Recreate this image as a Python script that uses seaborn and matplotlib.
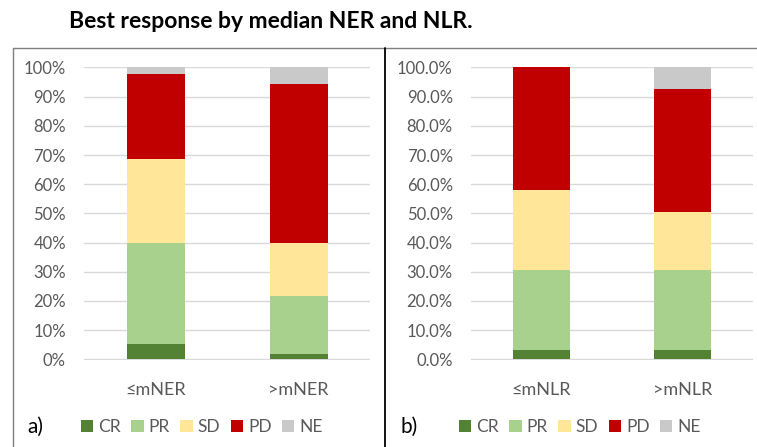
import numpy as np
import pandas as pd
import matplotlib
matplotlib.use('Agg')
import matplotlib.pyplot as plt
import seaborn as sns
from matplotlib.lines import Line2D
from matplotlib.patches import Patch
from matplotlib.ticker import FuncFormatter

# --- dados ---
responses = ['CR', 'PR', 'SD', 'PD', 'NE']
colors = ['#548235', '#A9D18E', '#FFE699', '#C00000', '#C9C9C9']

ner_groups = ['≤mNER', '>mNER']
ner_CR = [5.3, 1.7]
ner_PR = [34.5, 19.9]
ner_SD = [29.0, 18.2]
ner_PD = [29.1, 54.5]
ner_NE = [2.1, 5.7]

nlr_groups = ['≤mNLR', '>mNLR']
nlr_CR = [3.2, 3.2]
nlr_PR = [27.4, 27.4]
nlr_SD = [27.3, 20.0]
nlr_PD = [42.1, 42.0]
nlr_NE = [0.0, 7.4]

sns.set_theme(style='white')
plt.rcParams['font.family'] = ['Lato', 'DejaVu Sans']

fig = plt.figure(figsize=(7.57, 4.47), dpi=100)
ax_a = fig.add_axes([0.111, 0.195, 0.378, 0.656])
ax_b = fig.add_axes([0.622, 0.195, 0.3725, 0.656])


def stacked(ax, groups, series, fmt, letter, leg_x, letter_x):
    df = pd.DataFrame(dict(zip(responses, series)), index=groups)
    cum = df.cumsum(axis=1)
    # desenha do topo para baixo, cada barra cobre a anterior
    for resp, col in zip(responses[::-1], colors[::-1]):
        sns.barplot(x=list(groups), y=cum[resp].values, color=col, width=0.405,
                    saturation=1, ax=ax, zorder=3, edgecolor='none')
    ax.set_ylim(-0.2, 100.3)
    ax.set_xlim(-0.5, 1.5)
    ax.set_yticks(np.arange(0, 101, 10))
    ax.yaxis.set_major_formatter(FuncFormatter(lambda v, p: fmt.format(v)))
    ax.grid(axis='y', color='#D9D9D9', lw=1, zorder=0)
    for s in ax.spines.values():
        s.set_visible(False)
    ax.tick_params(axis='y', length=0, pad=13, labelsize=12, labelcolor='#595959')
    ax.tick_params(axis='x', length=0, pad=16, labelsize=13, labelcolor='#595959')
    ax.set_xlabel('')
    ax.set_ylabel('')
    handles = [Patch(facecolor=c, edgecolor='none') for c in colors]
    fig.legend(handles, responses, loc='center', bbox_to_anchor=(leg_x, 0.045),
               ncol=5, frameon=False, handlelength=0.7, handleheight=0.7,
               handletextpad=0.3, columnspacing=0.6, fontsize=12.5,
               labelcolor='#595959')
    fig.text(letter_x, 0.045, letter, fontsize=15, ha='center', va='center', color='black')


stacked(ax_a, ner_groups, [ner_CR, ner_PR, ner_SD, ner_PD, ner_NE], '{:.0f}%', 'a)', 202 / 757, 35 / 757)
stacked(ax_b, nlr_groups, [nlr_CR, nlr_PR, nlr_SD, nlr_PD, nlr_NE], '{:.1f}%', 'b)', 580 / 757, 409 / 757)

# molduras dos paineis
top = 1 - 48 / 447
fig.add_artist(Line2D([13 / 757, 1], [top, top], color='#7F7F7F', lw=1, transform=fig.transFigure))
fig.add_artist(Line2D([13 / 757, 13 / 757], [0, top], color='#7F7F7F', lw=1, transform=fig.transFigure))
fig.add_artist(Line2D([385 / 757, 385 / 757], [0, top], color='black', lw=1.3, transform=fig.transFigure))

fig.text(271 / 757, 1 - 21 / 447, 'Best response by median NER and NLR.', fontsize=16.5,
         fontweight='bold', ha='center', va='center', color='black')

fig.savefig('out.png', dpi=100)
